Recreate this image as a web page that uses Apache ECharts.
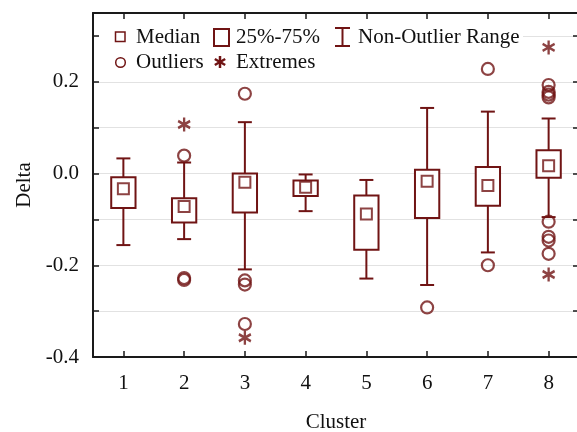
<!DOCTYPE html>
<html><head><meta charset="utf-8">
<script src="https://cdn.jsdelivr.net/npm/echarts@6/dist/echarts.min.js"></script>
<style>html,body{margin:0;padding:0;background:#fff}#c{width:577px;height:432px}</style>
</head><body><div id="c"></div>
<script>
const categories = ['1','2','3','4','5','6','7','8'];
const whiskerLow  = [-0.156,-0.143,-0.209,-0.082,-0.229,-0.243,-0.172,-0.095];
const q1          = [-0.075,-0.107,-0.085,-0.049,-0.166,-0.097,-0.070,-0.009];
const median      = [-0.033,-0.072,-0.019,-0.030,-0.088,-0.017,-0.026, 0.017];
const q3          = [-0.008,-0.054, 0.000,-0.015,-0.048, 0.008, 0.014, 0.051];
const whiskerHigh = [ 0.033, 0.024, 0.112,-0.002,-0.014, 0.143, 0.135, 0.120];
const outliers = [['2',0.039],['2',-0.228],['2',-0.232],['3',0.174],['3',-0.233],['3',-0.242],['3',-0.328],
  ['6',-0.292],['7',0.228],['7',-0.200],['8',0.193],['8',0.178],['8',0.172],['8',0.166],
  ['8',-0.105],['8',-0.138],['8',-0.146],['8',-0.175]];
const extremes = [['2',0.107],['3',-0.358],['8',0.275],['8',-0.220]];
const yMin = -0.4, yMax = 0.35, yStep = 0.1;
const legendNames = ['Median','25%-75%','Non-Outlier Range','Outliers','Extremes'];

const C = '#701414';
const FONT = 'Liberation Serif';
const TXT = '21px "Liberation Serif"';
const STAR = 'path://M6 0V14M0 3.5L12 10.5M0 10.5L12 3.5';

const chart = echarts.init(document.getElementById('c'), null, {renderer:'canvas'});
const yLabel = v => Math.abs(v/0.2 - Math.round(v/0.2)) < 1e-6 ? v.toFixed(1) : '';
const axisLine = {show:true, onZero:false, lineStyle:{color:'#1a1a1a', width:2}};
const tick = {show:true, inside:true, length:6, lineStyle:{color:'#1a1a1a', width:1.5}};
const st = {stroke:C, lineWidth:2, fill:null};

const option = {
  backgroundColor:'#fff',
  animation:false,
  grid:{left:93, right:-2, top:13, bottom:75, outerBoundsMode:'none', containLabel:false},
  xAxis:[
    {type:'category', data:categories, position:'bottom', axisLine, axisTick:Object.assign({alignWithLabel:true}, tick),
     axisLabel:{color:'#111', fontFamily:FONT, fontSize:21, margin:16},
     name:'Cluster', nameLocation:'middle', nameGap:55, nameTextStyle:{color:'#111', fontFamily:FONT, fontSize:21},
     splitLine:{show:false}},
    {type:'category', data:categories, position:'top', axisLine, axisTick:Object.assign({alignWithLabel:true}, tick),
     axisLabel:{show:false}, splitLine:{show:false}}
  ],
  yAxis:[
    {type:'value', min:yMin, max:yMax, interval:yStep, position:'left', axisLine, axisTick:tick,
     axisLabel:{color:'#111', fontFamily:FONT, fontSize:21, margin:14, formatter:yLabel},
     splitLine:{show:true, lineStyle:{color:'#e2e2e2', width:1}},
     name:'Delta', nameLocation:'middle', nameGap:57, nameTextStyle:{color:'#111', fontFamily:FONT, fontSize:21}},
    {type:'value', min:yMin, max:yMax, interval:yStep, position:'right', axisLine, axisTick:tick,
     axisLabel:{show:false}, splitLine:{show:false}}
  ],
  series:[
    {name:'Non-Outlier Range', type:'custom', xAxisIndex:0, yAxisIndex:0,
     data:categories.map((c,i)=>[i, whiskerLow[i], whiskerHigh[i], q1[i], q3[i]]),
     renderItem:(params, api)=>{
       const x = api.value(0);
       const lo = api.coord([x, api.value(1)]), hi = api.coord([x, api.value(2)]);
       const b1 = api.coord([x, api.value(3)]), b3 = api.coord([x, api.value(4)]);
       const cw = api.size([1,0])[0]*0.23;
       return {type:'group', children:[
         {type:'line', shape:{x1:hi[0], y1:hi[1], x2:b3[0], y2:b3[1]}, style:st},
         {type:'line', shape:{x1:lo[0], y1:lo[1], x2:b1[0], y2:b1[1]}, style:st},
         {type:'line', shape:{x1:hi[0]-cw/2, y1:hi[1], x2:hi[0]+cw/2, y2:hi[1]}, style:st},
         {type:'line', shape:{x1:lo[0]-cw/2, y1:lo[1], x2:lo[0]+cw/2, y2:lo[1]}, style:st}
       ]};
     }},
    {name:'25%-75%', type:'custom', xAxisIndex:0, yAxisIndex:0,
     data:categories.map((c,i)=>[i, q1[i], q3[i]]),
     renderItem:(params, api)=>{
       const x = api.value(0);
       const lo = api.coord([x, api.value(1)]), hi = api.coord([x, api.value(2)]);
       const w = api.size([1,0])[0]*0.4;
       return {type:'rect', shape:{x:lo[0]-w/2, y:hi[1], width:w, height:lo[1]-hi[1]},
               style:{fill:'#fff', stroke:C, lineWidth:2}};
     }},
    {name:'Median', type:'scatter', xAxisIndex:0, yAxisIndex:0,
     data:categories.map((c,i)=>[c, median[i]]),
     symbol:'rect', symbolSize:11, itemStyle:{color:'#fff', borderColor:C, borderWidth:2}},
    {name:'Outliers', type:'scatter', xAxisIndex:0, yAxisIndex:0, data:outliers,
     symbol:'circle', symbolSize:12, itemStyle:{color:'rgba(0,0,0,0)', borderColor:C, borderWidth:2.2}},
    {name:'Extremes', type:'scatter', xAxisIndex:0, yAxisIndex:0, data:extremes,
     symbol:STAR, symbolSize:[12,14], itemStyle:{color:'rgba(0,0,0,0)', borderColor:C, borderWidth:2.5}}
  ],
  graphic:{elements:[
    {type:'rect', z:90, shape:{x:99, y:22, width:424, height:30}, style:{fill:'#fff'}},
    // row 1
    {type:'rect', z:100, shape:{x:115.5, y:32, width:9.5, height:9.5}, style:{fill:'#fff', stroke:C, lineWidth:1.5}},
    {type:'text', z:100, x:136, y:37, style:{text:legendNames[0], font:TXT, fill:'#111', verticalAlign:'middle'}},
    {type:'rect', z:100, shape:{x:214, y:29, width:15, height:17}, style:{fill:'#fff', stroke:C, lineWidth:2}},
    {type:'text', z:100, x:236, y:37, style:{text:legendNames[1], font:TXT, fill:'#111', verticalAlign:'middle'}},
    {type:'line', z:100, shape:{x1:335, y1:28, x2:350, y2:28}, style:st},
    {type:'line', z:100, shape:{x1:342.5, y1:28, x2:342.5, y2:46}, style:st},
    {type:'line', z:100, shape:{x1:335, y1:46, x2:350, y2:46}, style:st},
    {type:'text', z:100, x:358, y:37, style:{text:legendNames[2], font:TXT, fill:'#111', verticalAlign:'middle'}},
    // row 2
    {type:'circle', z:100, shape:{cx:120.5, cy:62.5, r:4.8}, style:{fill:'#fff', stroke:C, lineWidth:1.5}},
    {type:'text', z:100, x:136, y:62, style:{text:legendNames[3], font:TXT, fill:'#111', verticalAlign:'middle'}},
    {type:'line', z:100, shape:{x1:220, y1:56, x2:220, y2:68}, style:{stroke:C, lineWidth:2.5}},
    {type:'line', z:100, shape:{x1:214.8, y1:59, x2:225.2, y2:65}, style:{stroke:C, lineWidth:2.5}},
    {type:'line', z:100, shape:{x1:214.8, y1:65, x2:225.2, y2:59}, style:{stroke:C, lineWidth:2.5}},
    {type:'text', z:100, x:236, y:62, style:{text:legendNames[4], font:TXT, fill:'#111', verticalAlign:'middle'}}
  ]}
};
chart.setOption(option);
</script></body></html>
